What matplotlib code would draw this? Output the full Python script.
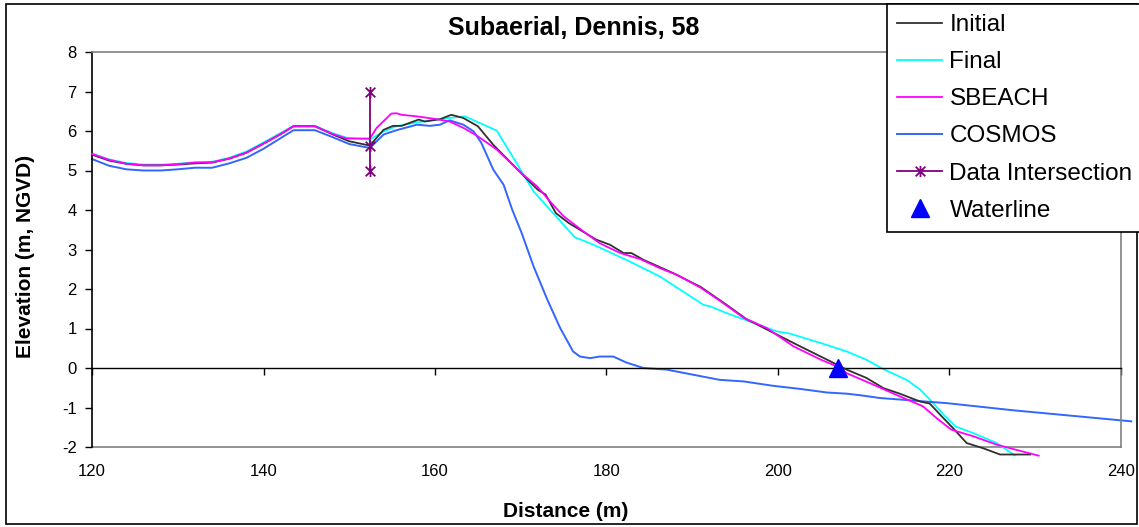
import matplotlib
matplotlib.use("Agg")
import matplotlib.pyplot as plt
from matplotlib.path import Path
from matplotlib.patches import Rectangle

plt.rcParams['font.family'] = ['Liberation Sans', 'DejaVu Sans']
plt.rcParams['axes.unicode_minus'] = False

# ---- data ----
initial_x = [120, 122, 124, 126, 128, 130, 132, 134, 136, 138, 140, 142, 143.5, 146, 148, 150, 152.4,
             154, 155.1, 156.1, 158.1, 158.8, 160.6, 161.9, 163.3, 165.0, 166.8, 168.7, 170.6, 172.0,
             172.9, 174.1, 175.6, 178.8, 180.4, 182.0, 182.9, 184.3, 187.8, 191.0, 194.0, 196.3, 200.2,
             202.2, 206.1, 208.0, 210.3, 212.3, 214.2, 216.6, 217.7, 218.9, 220.4, 222.0, 223.9, 225.9, 229.4]
initial_y = [5.40, 5.25, 5.17, 5.13, 5.13, 5.15, 5.18, 5.20, 5.30, 5.45, 5.68, 5.92, 6.12, 6.12, 5.92, 5.74, 5.63,
             6.03, 6.13, 6.13, 6.29, 6.24, 6.30, 6.41, 6.33, 6.12, 5.65, 5.23, 4.81, 4.51,
             4.39, 3.92, 3.67, 3.25, 3.12, 2.91, 2.91, 2.74, 2.40, 2.05, 1.60, 1.24, 0.81,
             0.59, 0.17, -0.04, -0.25, -0.51, -0.65, -0.85, -0.90, -1.18, -1.52, -1.90, -2.03, -2.19, -2.19]

final_x = [120, 122, 124, 126, 128, 130, 132, 134, 136, 138, 140, 142, 143.5, 146, 148, 149.7, 152.4,
           154, 155.5, 157.9, 160.2, 161.7, 163.5, 167.2, 169.5, 171.5, 174.1, 176.3, 178.5, 182.3,
           186.2, 190.1, 191.3, 192.1, 194.0, 196.3, 199.8, 201.4, 205.0, 208.0, 210.3, 212.3, 215.0,
           216.6, 218.1, 219.3, 220.7, 222.8, 225.5, 227.6]
final_y = [5.43, 5.28, 5.19, 5.15, 5.15, 5.17, 5.21, 5.22, 5.32, 5.48, 5.71, 5.95, 6.13, 6.13, 5.95, 5.83, 5.78,
           5.99, 6.12, 6.22, 6.29, 6.33, 6.37, 6.01, 5.19, 4.47, 3.84, 3.31, 3.12, 2.74,
           2.32, 1.77, 1.60, 1.56, 1.39, 1.21, 0.93, 0.87, 0.63, 0.42, 0.21, -0.03, -0.30,
           -0.55, -0.89, -1.18, -1.48, -1.65, -1.90, -2.21]

sbeach_x = [120, 122, 124, 126, 128, 130, 132, 134, 136, 138, 140, 142, 143.5, 146, 148, 149.7, 152.4,
            153.2, 154.9, 155.5, 156.1, 157.9, 160.2, 161.7, 163.3, 164.9, 167.2, 170.3, 171.9, 173.4,
            175.0, 177.3, 179.2, 181.6, 183.9, 186.2, 188.2, 191.0, 193.3, 196.0, 198.7, 201.8, 205.0,
            206.9, 208.0, 211.1, 213.8, 216.9, 218.5, 220.2, 222.8, 225.5, 227.4, 230.4]
sbeach_y = [5.42, 5.27, 5.17, 5.13, 5.13, 5.16, 5.20, 5.21, 5.30, 5.45, 5.68, 5.92, 6.12, 6.12, 5.93, 5.81, 5.81,
            6.08, 6.44, 6.45, 6.41, 6.37, 6.30, 6.24, 6.08, 5.88, 5.53, 4.89, 4.60, 4.22,
            3.84, 3.46, 3.16, 2.91, 2.76, 2.53, 2.36, 2.03, 1.69, 1.27, 1.01, 0.55, 0.21,
            0.04, -0.13, -0.42, -0.68, -0.97, -1.27, -1.56, -1.73, -1.94, -2.05, -2.22]

cosmos_x = [120, 122, 124, 126, 128, 130, 132, 134, 136, 138, 140, 142, 143.5, 146, 148, 150, 152.4,
            154, 155.5, 157.9, 159.4, 160.6, 161.7, 163.3, 164.5, 165.4, 166.8, 168.0, 169.0, 170.1,
            171.5, 173.1, 174.6, 176.1, 176.9, 178.1, 179.2, 180.8, 182.3, 184.3, 187.0, 190.1, 193.2,
            196.0, 199.4, 202.6, 205.7, 208.0, 209.6, 211.9, 219.7, 227.4, 241.2]
cosmos_y = [5.29, 5.12, 5.03, 5.00, 5.00, 5.03, 5.07, 5.07, 5.18, 5.32, 5.55, 5.82, 6.02, 6.02, 5.85, 5.67, 5.57,
            5.91, 6.02, 6.16, 6.13, 6.16, 6.27, 6.16, 5.99, 5.70, 5.02, 4.64, 4.01, 3.42,
            2.57, 1.73, 1.01, 0.42, 0.29, 0.25, 0.29, 0.29, 0.14, 0.00, -0.04, -0.17, -0.30,
            -0.34, -0.45, -0.53, -0.62, -0.65, -0.69, -0.76, -0.89, -1.07, -1.35]

intersect_x = [152.4, 152.4, 152.4]
intersect_y = [7.0, 5.62, 5.0]

waterline_x = [207.0]
waterline_y = [0.0]

x_ticks = [120, 140, 160, 180, 200, 220, 240]
y_ticks = [-2, -1, 0, 1, 2, 3, 4, 5, 6, 7, 8]

title = "Subaerial, Dennis, 58"
xlabel = "Distance (m)"
ylabel = "Elevation (m, NGVD)"

# ---- figure ----
W, H = 1139, 527
fig = plt.figure(figsize=(W / 100, H / 100), dpi=100)
ax = fig.add_axes([92 / W, 1 - 447 / H, (1121 - 92) / W, (447 - 52) / H])

star = Path([(-1, -1), (1, 1), (-1, 1), (1, -1), (0, -1.15), (0, 1.15)],
            [Path.MOVETO, Path.LINETO, Path.MOVETO, Path.LINETO, Path.MOVETO, Path.LINETO])

lw = 1.3
ax.plot(initial_x, initial_y, color='#303030', lw=lw, label='Initial', clip_on=False, zorder=3)
ax.plot(final_x, final_y, color='#00FFFF', lw=lw, label='Final', clip_on=False, zorder=2)
ax.plot(sbeach_x, sbeach_y, color='#FF00FF', lw=lw, label='SBEACH', clip_on=False, zorder=4)
ax.plot(cosmos_x, cosmos_y, color='#3366FF', lw=1.4, label='COSMOS', clip_on=False, zorder=2)
ax.plot(intersect_x, intersect_y, color='#800080', lw=1.3, marker=star, markersize=8,
        markeredgewidth=1.3, label='Data Intersection', clip_on=False, zorder=5)
ax.plot(waterline_x, waterline_y, linestyle='none', marker='^', color='#0000FF',
        markersize=13, label='Waterline', clip_on=False, zorder=6)

ax.set_xlim(120, 240)
ax.set_ylim(-2, 8)

# spines
for s in ['top', 'right']:
    ax.spines[s].set_color('#808080')
    ax.spines[s].set_linewidth(1.2)
ax.spines['left'].set_color('black')
ax.spines['left'].set_linewidth(1.2)
ax.spines['bottom'].set_position(('data', 0))
ax.spines['bottom'].set_color('black')
ax.spines['bottom'].set_linewidth(1.0)

ax.set_yticks(y_ticks)
ax.set_xticks(x_ticks)
ax.tick_params(axis='y', direction='out', length=5, width=1, pad=6, labelsize=12)
ax.tick_params(axis='x', direction='out', length=5, width=1, labelbottom=False)

sec = ax.secondary_xaxis('bottom')
sec.set_xticks(x_ticks)
sec.tick_params(length=0, pad=12, labelsize=12)
sec.spines['bottom'].set_color('#808080')
sec.spines['bottom'].set_linewidth(1.2)

fig.text(574 / W, 1 - 35 / H, title, ha='center', va='baseline', fontsize=18, fontweight='bold')
fig.text(566 / W, 1 - 517 / H, xlabel, ha='center', va='baseline', fontsize=15, fontweight='bold')
fig.text(26 / W, 1 - 256 / H, ylabel, ha='center', va='center', rotation=90, fontsize=15,
         fontweight='bold')

# outer border
fig.patches.append(Rectangle((6 / W, 3 / H), (1137 - 6) / W, (523 - 3) / H, transform=fig.transFigure,
                             fill=False, edgecolor='black', lw=1.2, zorder=0))

handles, labels = ax.get_legend_handles_labels()
leg = fig.legend(handles, labels, loc='upper left', bbox_to_anchor=(887 / W, 1 - 4 / H),
                 bbox_transform=fig.transFigure, borderaxespad=0, fontsize=17.5, frameon=True,
                 fancybox=False, shadow=False, framealpha=1, edgecolor='black',
                 handlelength=1.85, handletextpad=0.3, labelspacing=0.62, borderpad=0.42)
leg.get_frame().set_linewidth(1.2)
leg.set_zorder(10)

fig.savefig('out.png', dpi=100)
